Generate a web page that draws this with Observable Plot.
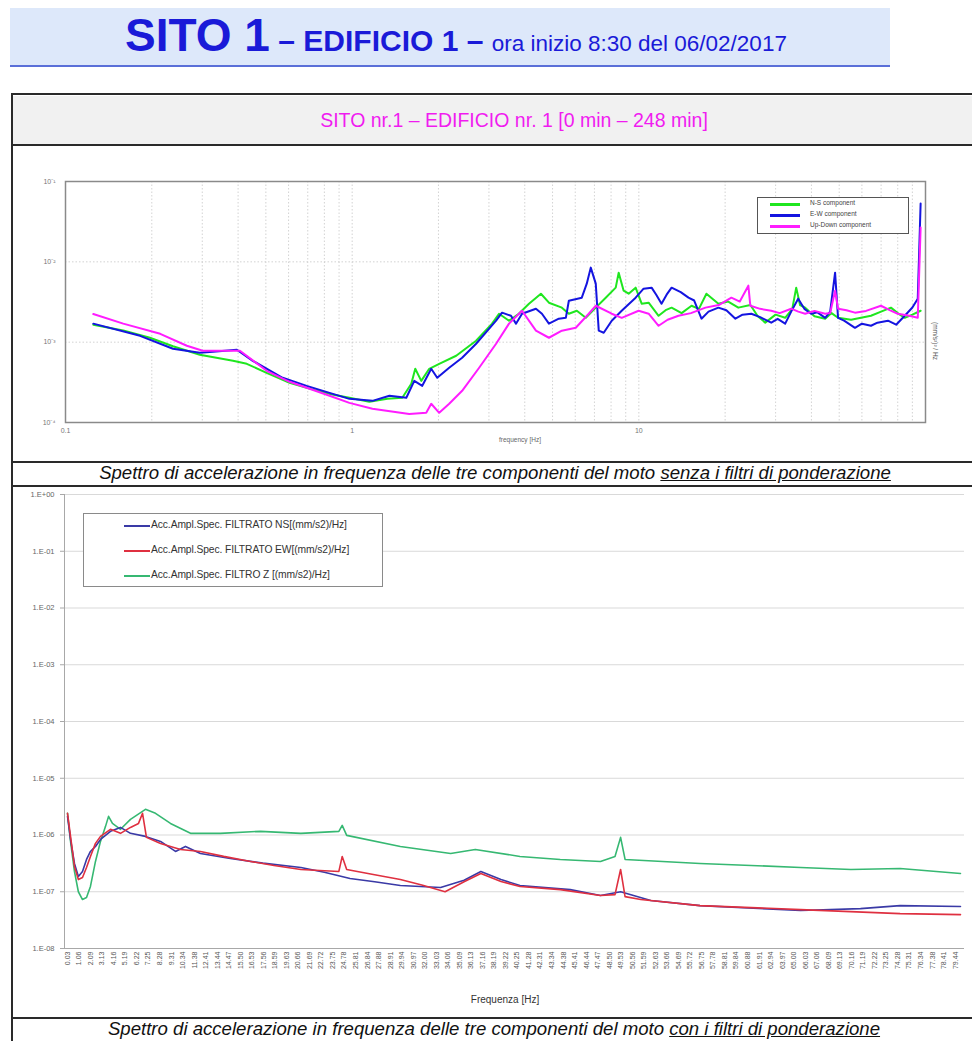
<!DOCTYPE html>
<html><head><meta charset="utf-8">
<script src="https://cdn.jsdelivr.net/npm/d3@7"></script>
<script src="https://cdn.jsdelivr.net/npm/@observablehq/plot@0.6"></script>
<style>
html,body{margin:0;padding:0;background:#fff;}
body{width:972px;height:1041px;position:relative;overflow:hidden;font-family:"Liberation Sans",Arial,sans-serif;}
.abs{position:absolute;}
.hline{position:absolute;left:11px;width:961px;height:2px;background:#2a2a2a;}
.ctr{position:absolute;width:1000px;text-align:center;white-space:nowrap;}
.leg1 div{position:absolute;font-size:6.5px;color:#444;white-space:nowrap;}
.leg1 span{position:absolute;height:2.5px;width:30px;}
.leg2 div{position:absolute;font-size:10.3px;color:#333;white-space:nowrap;letter-spacing:-0.1px;}
.leg2 span{position:absolute;height:1.6px;width:26px;}
</style></head><body>
<!-- title -->
<div class="abs" style="left:10px;top:8px;width:880px;height:57px;background:#dde8fa;border-bottom:2px solid #5a6fd8;"></div>
<div class="ctr" style="left:-44px;top:12px;line-height:46px;color:#1a1ad8;">
  <span style="font-size:46px;font-weight:bold;">SITO 1</span><span style="font-size:30px;font-weight:bold;"> – EDIFICIO 1 – </span><span style="font-size:22.5px;">ora inizio 8:30 del 06/02/2017</span>
</div>
<!-- table -->
<div class="abs" style="left:13px;top:96px;width:959px;height:49px;background:#f1f1f1;"></div>
<div class="hline" style="top:93px;"></div>
<div class="hline" style="top:144px;"></div>
<div class="hline" style="top:461px;"></div>
<div class="hline" style="top:485px;"></div>
<div class="hline" style="top:1017px;"></div>
<div class="abs" style="left:11px;top:93px;width:2px;height:960px;background:#2a2a2a;"></div>
<div class="ctr" style="left:14px;top:109px;font-size:19.5px;color:#f01cf0;">SITO nr.1 – EDIFICIO nr. 1 [0 min – 248 min]</div>
<div class="ctr" style="left:-5px;top:462px;font-size:18.6px;font-style:italic;color:#111;">Spettro di accelerazione in frequenza delle tre componenti del moto <u>senza i filtri di ponderazione</u></div>
<div class="ctr" style="left:-6px;top:1018px;font-size:18.6px;font-style:italic;color:#111;">Spettro di accelerazione in frequenza delle tre componenti del moto <u>con i filtri di ponderazione</u></div>

<div id="top" class="abs" style="left:0;top:146px;"></div>
<div id="bottom" class="abs" style="left:0;top:487px;"></div>

<!-- overlays: top chart -->
<div class="ctr" style="left:20px;top:436px;font-size:6.5px;color:#666;">frequency [Hz]</div>
<div class="abs" style="left:939px;top:322px;font-size:6.5px;color:#555;transform:rotate(90deg);transform-origin:0 0;white-space:nowrap;">(mm/s²)² / Hz</div>
<div class="abs leg1" style="left:757px;top:197px;width:150px;height:35px;border:1px solid #555;background:#fff;">
  <span style="left:12px;top:5px;background:#1fe61f;"></span><div style="left:52px;top:1px;">N-S component</div>
  <span style="left:12px;top:16px;background:#1414e0;"></span><div style="left:52px;top:12px;">E-W component</div>
  <span style="left:12px;top:27px;background:#ff1cff;"></span><div style="left:52px;top:23px;">Up-Down component</div>
</div>
<!-- overlays: bottom chart -->
<div class="ctr" style="left:5px;top:994px;font-size:10px;color:#333;">Frequenza [Hz]</div>
<div class="abs leg2" style="left:83px;top:513px;width:298px;height:72px;border:1px solid #8a8a8a;background:#fff;">
  <span style="left:40px;top:11px;background:#3a3aa6;"></span><div style="left:67px;top:5px;">Acc.Ampl.Spec. FILTRATO NS[(mm/s2)/Hz]</div>
  <span style="left:40px;top:36px;background:#df3040;"></span><div style="left:67px;top:30px;">Acc.Ampl.Spec. FILTRATO EW[(mm/s2)/Hz]</div>
  <span style="left:40px;top:61px;background:#36b872;"></span><div style="left:67px;top:55px;">Acc.Ampl.Spec. FILTRO Z [(mm/s2)/Hz]</div>
</div>

<script>
// ---------- top chart: spectra without weighting filters ([Hz, (mm/s²)²/Hz]) ----------
const topNS = [[0.125,1.65e-3],[0.159,1.40e-3],[0.197,1.135e-3],[0.237,8.9e-4],[0.294,6.97e-4],[0.384,5.86e-4],[0.429,5.38e-4],[0.503,4.15e-4],[0.605,3.12e-4],[0.694,2.7e-4],[0.834,2.27e-4],[0.978,2.03e-4],[1.148,1.81e-4],[1.327,1.97e-4],[1.496,2.03e-4],[1.608,3.03e-4],[1.660,4.66e-4],[1.742,3.30e-4],[1.857,4.66e-4],[2.012,5.38e-4],[2.306,6.77e-4],[2.706,1.04e-3],[3.076,1.70e-3],[3.253,2.26e-3],[3.525,1.85e-3],[3.813,2.26e-3],[4.138,3.01e-3],[4.555,4.01e-3],[4.857,3.10e-3],[5.389,2.69e-3],[5.700,2.26e-3],[6.077,2.46e-3],[6.531,2.01e-3],[7.075,2.69e-3],[7.665,3.58e-3],[8.305,4.77e-3],[8.506,7.33e-3],[8.851,4.37e-3],[9.215,4.01e-3],[9.746,4.77e-3],[10.23,3.01e-3],[10.82,3.10e-3],[11.72,2.13e-3],[12.4,2.5e-3],[13.01,2.69e-3],[14.1,2.3e-3],[15.27,2.84e-3],[16.2,2.6e-3],[17.21,4.01e-3],[18.95,3.01e-3],[20.5,3.2e-3],[22.24,2.69e-3],[24.5,2.9e-3],[26.0,2.1e-3],[27.61,1.75e-3],[30.0,2.2e-3],[32.40,2.01e-3],[34.3,2.6e-3],[35.40,4.77e-3],[36.5,2.9e-3],[38.04,2.69e-3],[41.0,2.1e-3],[44.67,1.96e-3],[47.0,2.3e-3],[49.54,2.01e-3],[55.0,1.9e-3],[64.53,2.13e-3],[70.0,2.4e-3],[75.74,2.69e-3],[80.0,2.3e-3],[84.66,2.01e-3],[90.0,2.2e-3],[96.16,2.46e-3]];
const topEW = [[0.125,1.70e-3],[0.182,1.20e-3],[0.237,8.27e-4],[0.294,7.38e-4],[0.327,7.59e-4],[0.396,8.04e-4],[0.450,5.86e-4],[0.572,3.60e-4],[0.694,2.86e-4],[0.834,2.34e-4],[0.978,1.97e-4],[1.177,1.86e-4],[1.349,2.15e-4],[1.545,2.03e-4],[1.647,3.30e-4],[1.756,2.86e-4],[1.887,4.66e-4],[1.980,3.60e-4],[2.180,4.80e-4],[2.419,6.39e-4],[2.706,9.55e-4],[3.177,1.85e-3],[3.333,2.33e-3],[3.581,2.13e-3],[3.728,1.70e-3],[3.913,2.26e-3],[4.376,2.61e-3],[4.592,2.26e-3],[4.857,1.70e-3],[5.260,1.96e-3],[5.564,2.01e-3],[5.700,3.28e-3],[6.324,3.58e-3],[6.582,5.35e-3],[6.797,8.47e-3],[7.075,5.35e-3],[7.247,1.39e-3],[7.543,1.31e-3],[8.044,1.85e-3],[8.714,2.46e-3],[9.746,3.58e-3],[10.39,4.63e-3],[11.08,4.77e-3],[11.5,3.9e-3],[12.00,3.01e-3],[12.5,3.9e-3],[13.01,4.77e-3],[14.0,4.2e-3],[14.90,3.58e-3],[15.6,3.3e-3],[16.54,1.96e-3],[17.5,2.4e-3],[18.95,2.69e-3],[20.2,2.5e-3],[21.72,1.96e-3],[23.0,2.2e-3],[24.68,2.26e-3],[26.5,2.05e-3],[28.97,1.75e-3],[30.5,1.95e-3],[32.40,1.70e-3],[34.0,2.4e-3],[35.96,3.48e-3],[37.8,2.6e-3],[39.90,2.26e-3],[42.0,2.35e-3],[44.67,2.01e-3],[46.5,2.4e-3],[48.37,7.33e-3],[49.54,2.01e-3],[52.0,1.85e-3],[56.75,1.51e-3],[60.0,1.7e-3],[64.53,1.60e-3],[68.0,1.75e-3],[73.96,1.85e-3],[79.0,1.65e-3],[84.66,2.13e-3],[90.0,2.7e-3],[93.97,3.48e-3],[96.16,5.32e-2]];
const topUD = [[0.125,2.24e-3],[0.159,1.70e-3],[0.214,1.27e-3],[0.265,9.02e-4],[0.301,7.81e-4],[0.337,7.81e-4],[0.406,7.81e-4],[0.503,4.40e-4],[0.605,3.21e-4],[0.834,2.15e-4],[0.978,1.755e-4],[1.177,1.48e-4],[1.582,1.28e-4],[1.813,1.32e-4],[1.887,1.71e-4],[2.012,1.32e-4],[2.180,1.71e-4],[2.419,2.48e-4],[2.773,4.80e-4],[3.177,9.55e-4],[3.525,1.70e-3],[3.913,2.46e-3],[4.376,1.39e-3],[4.857,1.135e-3],[5.389,1.39e-3],[6.026,1.51e-3],[6.689,2.26e-3],[7.075,2.84e-3],[8.044,2.26e-3],[8.714,2.01e-3],[9.984,2.46e-3],[10.82,2.26e-3],[11.72,1.60e-3],[12.6,1.9e-3],[13.75,2.13e-3],[15.2,2.3e-3],[17.08,2.69e-3],[19.0,2.9e-3],[21.03,3.58e-3],[22.5,3.2e-3],[24.10,5.05e-3],[24.49,2.84e-3],[26.5,2.6e-3],[28.97,2.46e-3],[31.0,2.3e-3],[34.00,2.61e-3],[36.0,2.4e-3],[38.04,2.26e-3],[41.0,2.45e-3],[44.67,2.26e-3],[46.5,2.3e-3],[48.37,4.37e-3],[49.54,2.61e-3],[53.0,2.5e-3],[56.75,2.33e-3],[62.0,2.45e-3],[69.93,2.84e-3],[75.0,2.5e-3],[80.0,2.26e-3],[87.0,2.15e-3],[93.97,2.01e-3],[96.16,2.67e-2]];
const topXTicks = [0.1, 1, 10];
const topXLabels = ["0.1", "1", "10"];
const topYTicks = [1e-4, 1e-3, 1e-2, 1e-1];
const topYLabels = ["10⁻⁴", "10⁻³", "10⁻²", "10⁻¹"];
const topGridX = [0.2,0.3,0.4,0.5,0.6,0.7,0.8,0.9,1,2,3,4,5,6,7,8,9,10,20,30,40,50,60,70,80,90];
const topGridY = [1e-3, 1e-2];

// ---------- bottom chart: spectra with weighting filters ([Hz, (mm/s2)/Hz]) ----------
const botNS = [[0.03,2.13e-6],[0.30,8.36e-7],[0.65,3.15e-7],[1.0,1.86e-7],[1.37,2.28e-7],[1.73,3.71e-7],[2.08,5.13e-7],[2.53,6.29e-7],[2.98,8.36e-7],[3.87,1.16e-6],[4.77,1.36e-6],[5.66,1.07e-6],[7.0,9.45e-7],[8.35,7.71e-7],[9.69,5.13e-7],[10.58,6.29e-7],[11.92,4.73e-7],[14.6,3.86e-7],[17.5,3.2e-7],[20.9,2.68e-7],[23.0,2.2e-7],[25.3,1.71e-7],[27.5,1.5e-7],[29.8,1.29e-7],[33.4,1.19e-7],[35.5,1.6e-7],[37.0,2.28e-7],[38.8,1.64e-7],[40.5,1.29e-7],[45.0,1.09e-7],[47.7,8.57e-8],[49.5,1.0e-7],[52.2,7.0e-8],[56.6,5.7e-8],[65.6,4.66e-8],[70.96,5.05e-8],[74.5,5.7e-8],[79.9,5.5e-8]];
const botEW = [[0.03,2.41e-6],[0.30,9.45e-7],[0.65,2.79e-7],[1.0,1.64e-7],[1.37,1.78e-7],[1.73,2.68e-7],[2.08,4.19e-7],[2.53,7.11e-7],[2.98,9.45e-7],[3.87,1.26e-6],[4.77,1.07e-6],[5.66,1.36e-6],[6.38,1.60e-6],[6.74,2.41e-6],[7.09,9.08e-7],[8.35,7.11e-7],[10.14,5.57e-7],[11.92,5.13e-7],[14.0,4.2e-7],[16.4,3.42e-7],[18.5,2.9e-7],[20.9,2.47e-7],[24.3,2.28e-7],[24.6,4.19e-7],[25.0,2.47e-7],[27.5,2.0e-7],[29.8,1.64e-7],[31.8,1.3e-7],[33.8,1.0e-7],[35.5,1.5e-7],[37.0,2.10e-7],[38.8,1.51e-7],[40.5,1.24e-7],[44.1,1.09e-7],[47.7,8.57e-8],[49.0,8.9e-8],[49.5,2.47e-7],[49.9,8.2e-8],[51.3,7.3e-8],[56.6,5.7e-8],[65.6,4.85e-8],[74.5,4.12e-8],[79.9,3.95e-8]];
const botZ = [[0.03,2.41e-6],[0.30,7.71e-7],[0.65,2.28e-7],[1.0,1.0e-7],[1.37,7.3e-8],[1.73,7.9e-8],[2.08,1.24e-7],[2.53,3.42e-7],[2.98,7.71e-7],[3.43,1.42e-6],[3.70,2.13e-6],[4.05,1.60e-6],[4.77,1.26e-6],[5.66,1.89e-6],[7.0,2.83e-6],[7.9,2.41e-6],[9.24,1.60e-6],[11.03,1.07e-6],[13.7,1.07e-6],[17.3,1.16e-6],[20.9,1.07e-6],[24.3,1.16e-6],[24.6,1.48e-6],[25.0,9.84e-7],[29.8,6.29e-7],[34.3,4.73e-7],[36.5,5.57e-7],[40.5,4.19e-7],[44.1,3.71e-7],[47.7,3.42e-7],[49.0,4.19e-7],[49.5,9.08e-7],[49.9,3.71e-7],[56.6,3.15e-7],[65.6,2.68e-7],[70.1,2.47e-7],[74.5,2.57e-7],[79.9,2.10e-7]];
const botYTicks = [1, 1e-1, 1e-2, 1e-3, 1e-4, 1e-5, 1e-6, 1e-7, 1e-8];
const botYLabels = ["1.E+00","1.E-01","1.E-02","1.E-03","1.E-04","1.E-05","1.E-06","1.E-07","1.E-08"];
const botXLabels = ["0.03","1.06","2.09","3.13","4.16","5.19","6.22","7.25","8.28","9.31","10.34","11.38","12.41","13.44","14.47","15.50","16.53","17.56","18.59","19.63","20.66","21.69","22.72","23.75","24.78","25.81","26.84","27.88","28.91","29.94","30.97","32.00","33.03","34.06","35.09","36.13","37.16","38.19","39.22","40.25","41.28","42.31","43.34","44.38","45.41","46.44","47.47","48.50","49.53","50.56","51.59","52.63","53.66","54.69","55.72","56.75","57.78","58.81","59.84","60.88","61.91","62.94","63.97","65.00","66.03","67.06","68.09","69.13","70.16","71.19","72.22","73.25","74.28","75.31","76.34","77.38","78.41","79.44"];
const botXDomain = [-0.24, 80.26];

const topYMap = new Map(topYTicks.map((d, i) => [d, topYLabels[i]]));
const topXMap = new Map(topXTicks.map((d, i) => [d, topXLabels[i]]));
const topChart = Plot.plot({
  width: 972, height: 314,
  marginLeft: 65, marginRight: 47, marginTop: 35, marginBottom: 38,
  style: {background: "transparent", fontFamily: "Liberation Sans, sans-serif", overflow: "visible"},
  x: {type: "log", domain: [0.1, 100]},
  y: {type: "log", domain: [1e-4, 1e-1]},
  marks: [
    Plot.ruleX(topGridX, {stroke: "#c8c8c8", strokeDasharray: "1.5,2", strokeWidth: 0.8}),
    Plot.ruleY(topGridY, {stroke: "#c8c8c8", strokeDasharray: "1.5,2", strokeWidth: 0.8}),
    Plot.line(topNS, {x: d => d[0], y: d => d[1], stroke: "#1fe61f", strokeWidth: 2}),
    Plot.line(topEW, {x: d => d[0], y: d => d[1], stroke: "#1414e0", strokeWidth: 2}),
    Plot.line(topUD, {x: d => d[0], y: d => d[1], stroke: "#ff1cff", strokeWidth: 2}),
    Plot.frame({stroke: "#8a8a8a", strokeWidth: 1.5}),
    Plot.axisX(topXTicks, {tickFormat: d => topXMap.get(d), tickSize: 0, tickPadding: 6, fontSize: 7, fill: "#777", label: null}),
    Plot.axisY(topYTicks, {tickFormat: d => topYMap.get(d), tickSize: 0, tickPadding: 10, fontSize: 7, fill: "#777", label: null})
  ]
});
document.getElementById("top").append(topChart);

const botYMap = new Map(botYTicks.map((d, i) => [d, botYLabels[i]]));
const botXTicks = botXLabels.map(Number);
const botXMap = new Map(botXTicks.map((d, i) => [d, botXLabels[i]]));
const bottomChart = Plot.plot({
  width: 972, height: 531,
  marginLeft: 64, marginRight: 8, marginTop: 7, marginBottom: 70,
  style: {background: "transparent", fontFamily: "Liberation Sans, sans-serif", overflow: "visible"},
  x: {domain: botXDomain},
  y: {type: "log", domain: [1e-8, 1]},
  marks: [
    Plot.ruleY(botYTicks, {stroke: "#d9d9d9", strokeWidth: 1}),
    Plot.ruleX([botXDomain[0]], {stroke: "#a8a8a8"}),
    Plot.ruleY([1e-8], {stroke: "#a8a8a8"}),
    Plot.line(botZ, {x: d => d[0], y: d => d[1], stroke: "#36b872", strokeWidth: 1.6}),
    Plot.line(botNS, {x: d => d[0], y: d => d[1], stroke: "#3a3aa6", strokeWidth: 1.6}),
    Plot.line(botEW, {x: d => d[0], y: d => d[1], stroke: "#df3040", strokeWidth: 1.6}),
    Plot.axisY(botYTicks, {tickFormat: d => botYMap.get(d), tickSize: 4, tickPadding: 6, fontSize: 7.5, fill: "#666", stroke: "#a8a8a8", label: null}),
    Plot.axisX(botXTicks, {tickFormat: d => botXMap.get(d), tickRotate: -90, tickSize: 0, tickPadding: 3, fontSize: 7, fill: "#555", label: null})
  ]
});
document.getElementById("bottom").append(bottomChart);
</script>
</body></html>
